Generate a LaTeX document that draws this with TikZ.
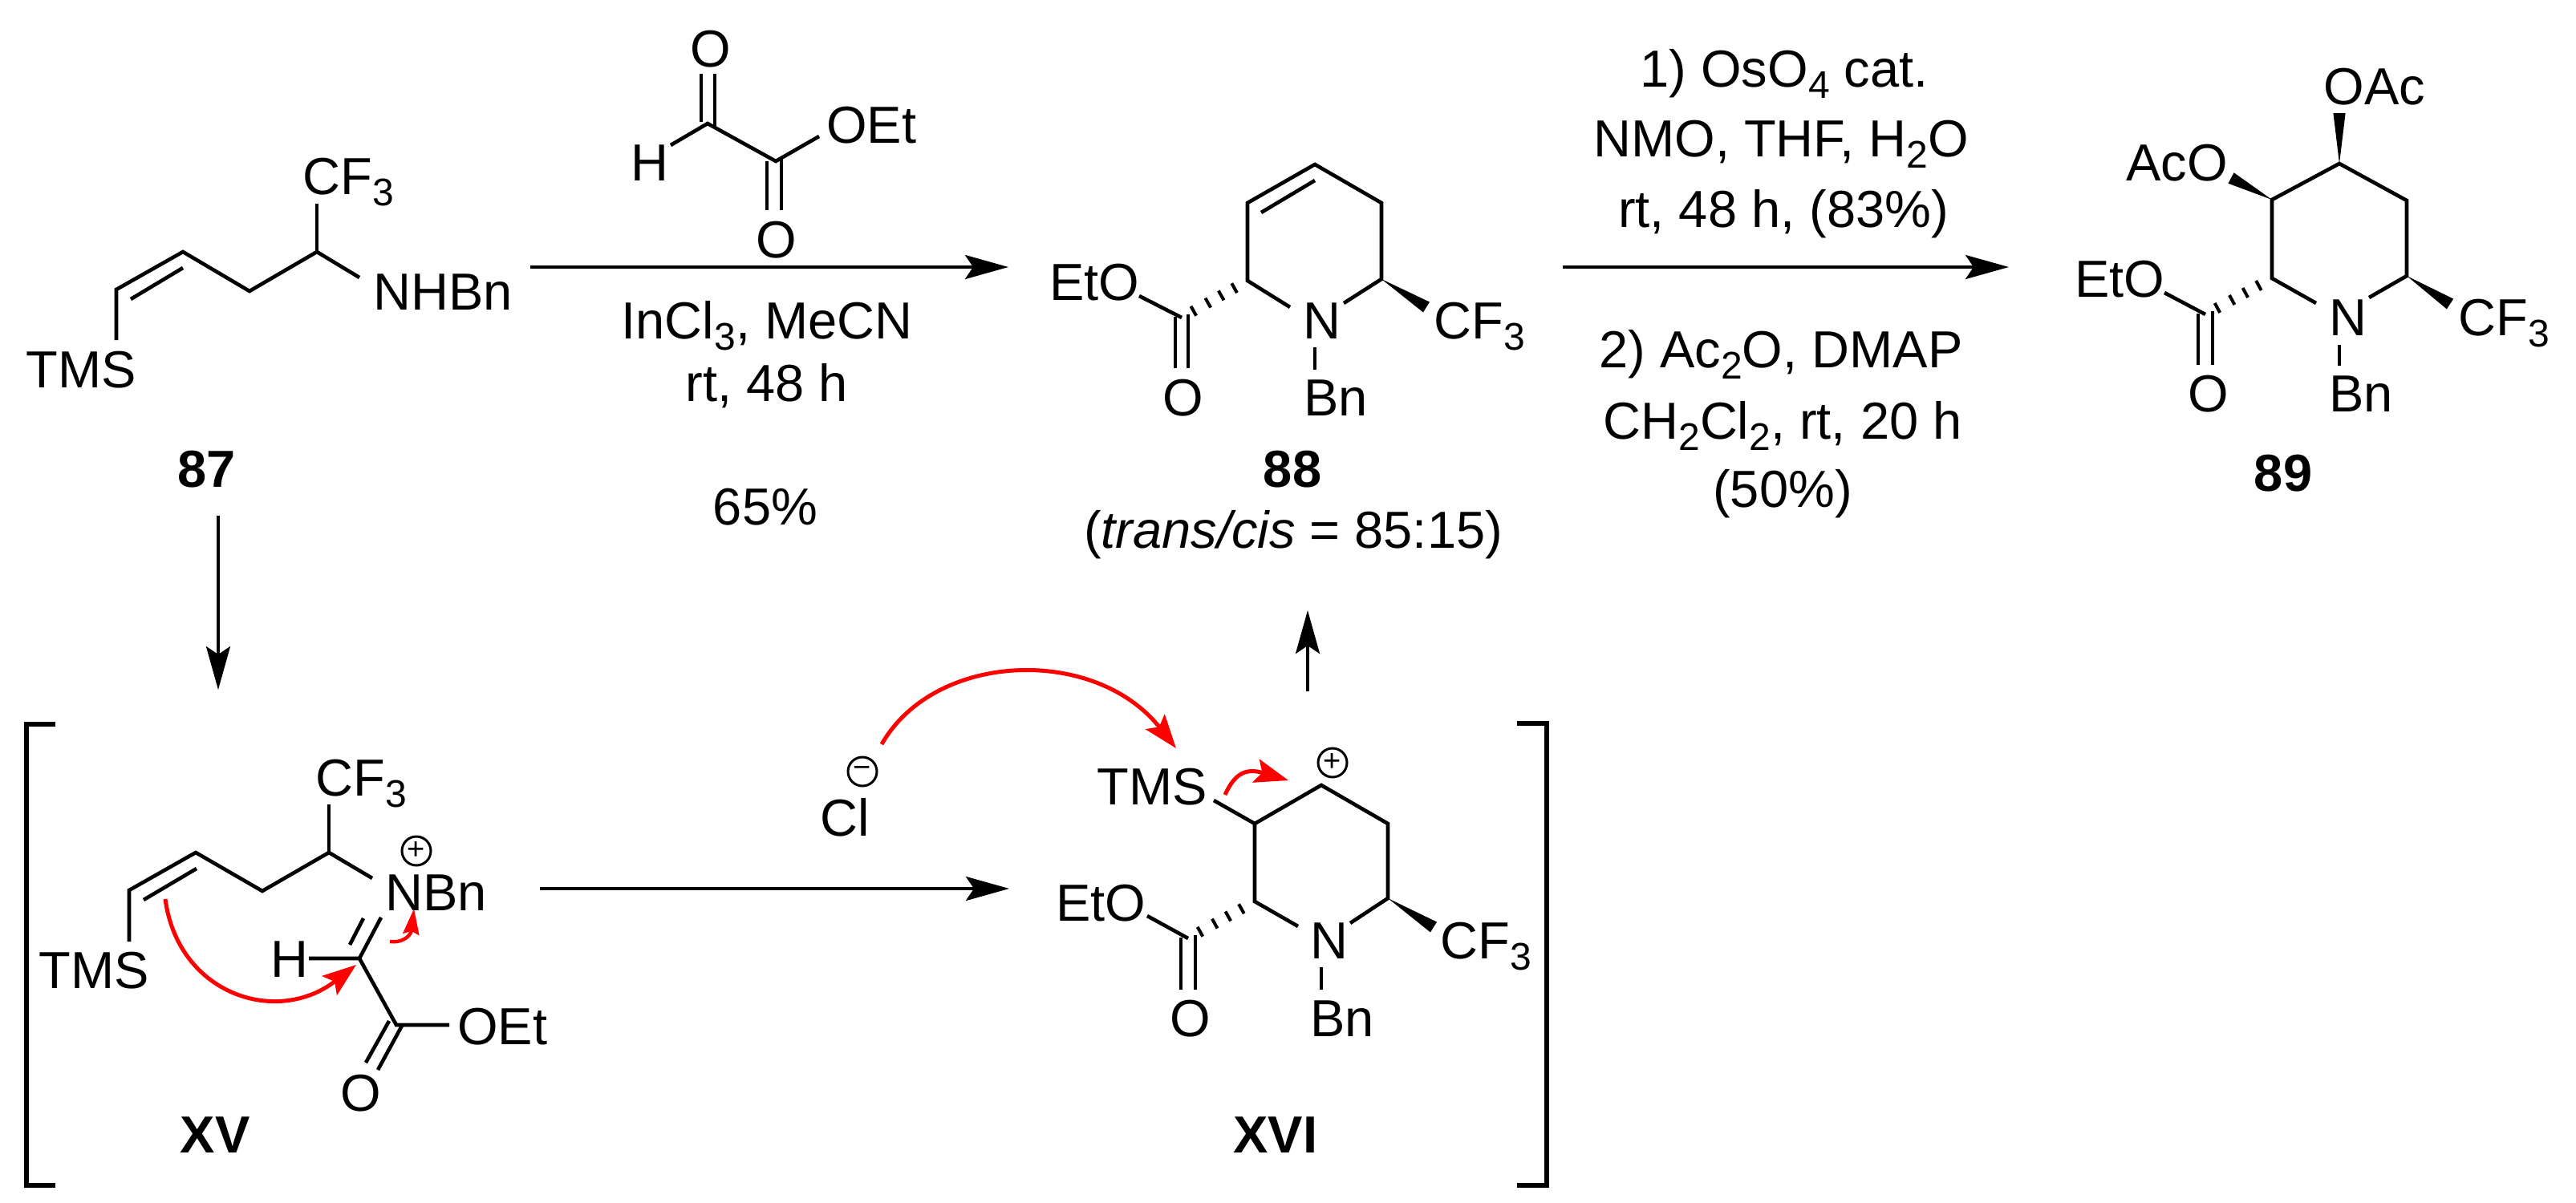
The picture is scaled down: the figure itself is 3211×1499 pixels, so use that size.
\documentclass[tikz,border=0pt]{standalone}
\usepackage{fontspec}
\setmainfont{Liberation Sans}
\usetikzlibrary{calc,arrows.meta}

\newcommand{\chemfont}{\fontsize{32.5}{38}\selectfont}
\newcommand{\subn}[1]{\raisebox{-0.23em}{\fontsize{24}{24}\selectfont #1}}
\newcommand{\wedgebond}[2]{\fill (#1) -- ($(#2)!3.8pt!90:(#1)$) -- ($(#2)!3.8pt!-90:(#1)$) -- cycle;}
\newcommand{\hashbond}[2]{\foreach \t in {0.2,0.4,0.6,0.82}{
	\coordinate (hc) at ($(#1)!\t!(#2)$);
	\draw[hashline] ($(hc)!3.4pt!90:(#2)$) -- ($(hc)!3.4pt!-90:(#2)$);}}

\tikzset{
	atom/.style={inner sep=0pt, font=\chemfont, anchor=base west},
	ctr/.style={inner sep=0pt, font=\chemfont, anchor=base},
	cpd/.style={inner sep=0pt, font=\chemfont\bfseries, anchor=base},
	chg/.style={circle, draw, line width=1.5pt, inner sep=0pt, minimum size=18pt, font=\fontsize{19}{19}\selectfont},
	bond/.style={line width=2.3pt},
	hashline/.style={line width=2pt},
	rxn/.style={line width=1.9pt, -{Stealth[length=27pt,width=15pt,inset=5pt]}},
	brack/.style={line width=2.6pt},
	push/.style={red, line width=2.5pt, -{Stealth[length=21pt,width=15pt,inset=4pt]}},
	pushsmall/.style={red, line width=2.2pt, -{Stealth[length=16pt,width=10pt,inset=2pt]}},
}

\begin{document}
\begin{tikzpicture}[x=0.5pt,y=-0.5pt]
	\useasboundingbox (0,0) rectangle (3211,1499);

	%Compound 87
	\node[atom] (TMSa) at (32,483) {TMS};
	\node[atom] (CFa) at (377,242) {CF\subn{3}};
	\node[atom] (NHBn) at (465,386) {NHBn};
	\node[cpd] (Ca) at (258,607) {87};
	\coordinate (a1) at (145,424); \coordinate (a2) at (145,361); \coordinate (a3) at (228,314);
	\coordinate (a4) at (311,363); \coordinate (a5) at (395,314); \coordinate (a6) at (448,346);
	\coordinate (a7) at (395,254); \coordinate (a8) at (163,373); \coordinate (a9) at (228,334);
	\draw[bond] (a1) -- (a2) -- (a3) -- (a4) -- (a5) -- (a6);
	\draw[bond] (a5) -- (a7);
	\draw[bond] (a8) -- (a9);

	%Ethyl glyoxylate
	\node[ctr] (Oga) at (886,83) {O};
	\node[atom] (Hg) at (786,225) {H};
	\node[atom] (OEtg) at (1030,178) {OEt};
	\node[ctr] (Ogb) at (968,321) {O};
	\coordinate (g1) at (882,154); \coordinate (g2) at (967,201); \coordinate (g3) at (836,181);
	\coordinate (g4) at (1021,170);
	\coordinate (g5) at (874,92); \coordinate (g6) at (874,152); \coordinate (g7) at (891,92); \coordinate (g8) at (891,160);
	\coordinate (g9) at (956,201); \coordinate (g10) at (956,262); \coordinate (g11) at (974,197); \coordinate (g12) at (974,262);
	\draw[bond] (g3) -- (g1) -- (g2) -- (g4);
	\draw[bond] (g5) -- (g6);
	\draw[bond] (g7) -- (g8);
	\draw[bond] (g9) -- (g10);
	\draw[bond] (g11) -- (g12);

	%Conditions, first step
	\node[ctr] (Ra) at (956,422) {InCl\subn{3}, MeCN};
	\node[ctr] (Rb) at (956,500) {rt, 48 h};
	\node[ctr] (Rc) at (954,654) {65\%};

	%Compound 88
	\node[atom] (EtOb) at (1308,374) {EtO};
	\node[ctr] (Ob) at (1475,518) {O};
	\node[atom] (Nb) at (1624,422) {N};
	\node[atom] (Bnb) at (1625,518) {Bn};
	\node[atom] (CFb) at (1787,422) {CF\subn{3}};
	\node[cpd] (Cb) at (1611,607) {88};
	\node[ctr] (Ratio) at (1612,683) {(\textit{trans/cis} = 85:15)};
	\coordinate (b1) at (1555,350); \coordinate (b2) at (1555,253); \coordinate (b3) at (1639,205);
	\coordinate (b4) at (1722,253); \coordinate (b5) at (1722,348); \coordinate (b6) at (1608,383);
	\coordinate (b7) at (1675,378); \coordinate (b8) at (1572,265); \coordinate (b9) at (1639,225);
	\coordinate (b10) at (1639,433); \coordinate (b11) at (1639,461); \coordinate (b12) at (1778,383);
	\coordinate (b13) at (1473,396); \coordinate (b14) at (1420,369);
	\coordinate (b15) at (1465,395); \coordinate (b16) at (1465,459); \coordinate (b17) at (1481,392); \coordinate (b18) at (1481,459);
	\draw[bond] (b6) -- (b1) -- (b2) -- (b3) -- (b4) -- (b5) -- (b7);
	\draw[bond] (b8) -- (b9);
	\draw[bond] (b10) -- (b11);
	\draw[bond] (b14) -- (b13);
	\draw[bond] (b15) -- (b16);
	\draw[bond] (b17) -- (b18);
	\wedgebond{b5}{b12}
	\hashbond{b1}{b13}

	%Conditions, second step
	\node[ctr] (Sa) at (2224,108) {1) OsO\subn{4} cat.};
	\node[ctr] (Sb) at (2220,195) {NMO, THF, H\subn{2}O};
	\node[ctr] (Sc) at (2223,283) {rt, 48 h, (83\%)};
	\node[ctr] (Sd) at (2220,458) {2) Ac\subn{2}O, DMAP};
	\node[ctr] (Se) at (2222,547) {CH\subn{2}Cl\subn{2}, rt, 20 h};
	\node[ctr] (Sf) at (2222,632) {(50\%)};

	%Compound 89
	\node[atom] (OAc) at (2896,130) {OAc};
	\node[atom] (AcO) at (2650,225) {AcO};
	\node[atom] (EtOc) at (2586,370) {EtO};
	\node[ctr] (Oc) at (2753,513) {O};
	\node[atom] (Nc) at (2903,418) {N};
	\node[atom] (Bnc) at (2903,513) {Bn};
	\node[atom] (CFc) at (3064,418) {CF\subn{3}};
	\node[cpd] (Cc) at (2846,612) {89};
	\coordinate (c1) at (2832,347); \coordinate (c2) at (2832,249); \coordinate (c3) at (2916,204);
	\coordinate (c4) at (3000,250); \coordinate (c5) at (3000,344); \coordinate (c6) at (2887,378);
	\coordinate (c7) at (2953,371); \coordinate (c8) at (2916,141); \coordinate (c9) at (2781,222);
	\coordinate (c10) at (3054,379); \coordinate (c11) at (2916,430); \coordinate (c12) at (2916,456);
	\coordinate (c13) at (2749,392); \coordinate (c14) at (2698,365);
	\coordinate (c15) at (2740,391); \coordinate (c16) at (2740,455); \coordinate (c17) at (2758,388); \coordinate (c18) at (2758,455);
	\draw[bond] (c6) -- (c1) -- (c2) -- (c3) -- (c4) -- (c5) -- (c7);
	\draw[bond] (c11) -- (c12);
	\draw[bond] (c14) -- (c13);
	\draw[bond] (c15) -- (c16);
	\draw[bond] (c17) -- (c18);
	\wedgebond{c3}{c8}
	\wedgebond{c2}{c9}
	\wedgebond{c5}{c10}
	\hashbond{c1}{c13}

	%Intermediate XV
	\node[atom] (TMSd) at (48,1232) {TMS};
	\node[atom] (CFd) at (393,992) {CF\subn{3}};
	\node[atom] (NBn) at (480,1135) {NBn};
	\node[chg] (Pd) at (519,1061) {+};
	\node[atom] (Hd) at (337,1218) {H};
	\node[atom] (OEtd) at (570,1302) {OEt};
	\node[ctr] (Od) at (450,1385) {O};
	\node[cpd] (Cd) at (268,1437) {XV};
	\coordinate (d1) at (161,1174); \coordinate (d2) at (161,1110); \coordinate (d3) at (244,1063);
	\coordinate (d4) at (327,1111); \coordinate (d5) at (410,1063); \coordinate (d6) at (464,1095);
	\coordinate (d7) at (410,1003); \coordinate (d8) at (179,1122); \coordinate (d9) at (245,1083);
	\coordinate (d10) at (448,1195); \coordinate (d11) at (475,1144); \coordinate (d12) at (436,1178);
	\coordinate (d13) at (453,1145); \coordinate (d14) at (385,1195); \coordinate (d15) at (494,1278);
	\coordinate (d16) at (560,1278); \coordinate (d17) at (485,1273); \coordinate (d18) at (456,1325);
	\coordinate (d19) at (501,1279); \coordinate (d20) at (471,1334);
	\draw[bond] (d1) -- (d2) -- (d3) -- (d4) -- (d5) -- (d6);
	\draw[bond] (d5) -- (d7);
	\draw[bond] (d8) -- (d9);
	\draw[bond] (d14) -- (d10) -- (d11);
	\draw[bond] (d12) -- (d13);
	\draw[bond] (d10) -- (d15) -- (d16);
	\draw[bond] (d17) -- (d18);
	\draw[bond] (d19) -- (d20);

	%Chloride
	\node[atom] (Cl) at (1022,1042) {Cl};
	\node[chg] (Me) at (1075,962) {−};

	%Intermediate XVI
	\node[atom] (TMSe) at (1367,1003) {TMS};
	\node[atom] (EtOe) at (1316,1148) {EtO};
	\node[ctr] (Oe) at (1484,1292) {O};
	\node[atom] (Ne) at (1633,1195) {N};
	\node[atom] (Bne) at (1633,1292) {Bn};
	\node[atom] (CFe) at (1795,1195) {CF\subn{3}};
	\node[chg] (Pe) at (1661,951) {+};
	\node[cpd] (Ce) at (1590,1437) {XVI};
	\coordinate (e1) at (1564,1124); \coordinate (e2) at (1564,1027); \coordinate (e3) at (1647,979);
	\coordinate (e4) at (1730,1027); \coordinate (e5) at (1730,1120); \coordinate (e6) at (1618,1155);
	\coordinate (e7) at (1683,1151); \coordinate (e8) at (1513,998); \coordinate (e9) at (1787,1156);
	\coordinate (e10) at (1647,1206); \coordinate (e11) at (1647,1234);
	\coordinate (e12) at (1481,1170); \coordinate (e13) at (1430,1142);
	\coordinate (e14) at (1472,1169); \coordinate (e15) at (1472,1234); \coordinate (e16) at (1490,1166); \coordinate (e17) at (1490,1234);
	\draw[bond] (e6) -- (e1) -- (e2) -- (e3) -- (e4) -- (e5) -- (e7);
	\draw[bond] (e8) -- (e2);
	\draw[bond] (e10) -- (e11);
	\draw[bond] (e13) -- (e12);
	\draw[bond] (e14) -- (e15);
	\draw[bond] (e16) -- (e17);
	\wedgebond{e5}{e9}
	\hashbond{e1}{e12}

	%Brackets
	\coordinate (la) at (69,903); \coordinate (lb) at (33,903); \coordinate (lc) at (33,1478); \coordinate (ld) at (69,1478);
	\coordinate (ra) at (1891,902); \coordinate (rb) at (1928,902); \coordinate (rc) at (1928,1478); \coordinate (rd) at (1891,1478);
	\draw[brack] (la) -- (lb) -- (lc) -- (ld);
	\draw[brack] (ra) -- (rb) -- (rc) -- (rd);

	%Reaction arrows
	\coordinate (r1s) at (661,333); \coordinate (r1e) at (1257,333);
	\coordinate (r2s) at (1948,333); \coordinate (r2e) at (2504,333);
	\coordinate (r3s) at (272,643); \coordinate (r3e) at (272,860);
	\coordinate (r4s) at (673,1108); \coordinate (r4e) at (1258,1108);
	\coordinate (r5s) at (1630,862); \coordinate (r5e) at (1630,761);
	\draw[rxn] (r1s) -- (r1e);
	\draw[rxn] (r2s) -- (r2e);
	\draw[rxn] (r3s) -- (r3e);
	\draw[rxn] (r4s) -- (r4e);
	\draw[rxn] (r5s) -- (r5e);

	%Electron pushing
	\coordinate (p1s) at (206,1121); \coordinate (p1e) at (444,1203);
	\coordinate (p2s) at (486,1174); \coordinate (p2e) at (516,1133);
	\coordinate (p3s) at (1099,928); \coordinate (p3e) at (1466,933);
	\coordinate (p4s) at (1527,991); \coordinate (p4e) at (1606,973);
	\draw[push] (p1s) .. controls (222,1240) and (345,1280) .. (p1e);
	\draw[pushsmall] (p2s) .. controls (500,1176) and (512,1168) .. (p2e);
	\draw[push] (p3s) .. controls (1165,812) and (1365,805) .. (p3e);
	\draw[push] (p4s) .. controls (1540,962) and (1555,958) .. (p4e);
\end{tikzpicture}
\end{document}
